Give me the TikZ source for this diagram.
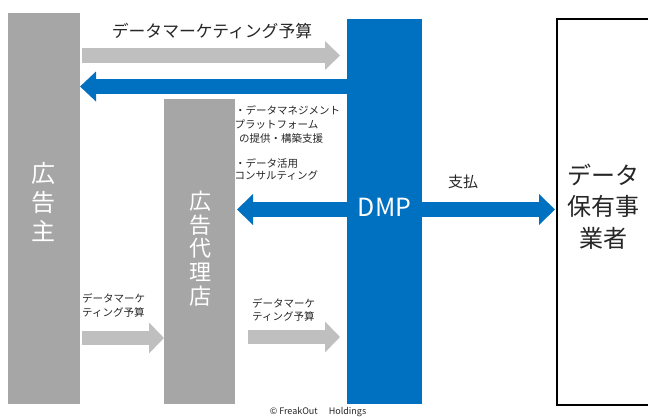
\documentclass[tikz,border=0pt]{standalone}
\usepackage{fontspec}
\setmainfont{Noto Sans CJK JP}
\usetikzlibrary{arrows.meta}
\definecolor{bargrey}{HTML}{A6A6A6}
\definecolor{arrgrey}{HTML}{BFBFBF}
\definecolor{dmpblue}{HTML}{0070C0}
\definecolor{txtc}{HTML}{262626}
\begin{document}
\begin{tikzpicture}[x=1pt,y=-1pt,
  bar/.style={fill=bargrey, draw=none, inner sep=0pt, outer sep=0pt, anchor=north west},
  garrow/.style={draw=arrgrey, line width=15pt, -{Triangle[length=15pt,width=28pt]}},
  barrow/.style={draw=dmpblue, line width=15pt},
  small/.style={anchor=base west, inner sep=0pt, text=txtc, font=\fontsize{10.5}{12}\selectfont},
  big/.style={align=center, inner sep=0pt, text=white}
]
\useasboundingbox (0,0) rectangle (648,416);
\fill[white] (0,0) rectangle (648,416);

% main blocks
\node[bar, minimum width=72pt, minimum height=391pt] (adv) at (8,13) {};
\node[bar, minimum width=71pt, minimum height=305pt] (ag) at (164,99) {};
\node[bar, fill=dmpblue, minimum width=75pt, minimum height=385pt] (dmp) at (347,19) {};
\node[draw=black, line width=2pt, fill=white, minimum width=92pt, minimum height=386pt,
      anchor=north west, inner sep=0pt, outer sep=0pt] (owner) at (557,19) {};

% levels of the arrows
\coordinate (yA) at (0,55.5);
\coordinate (yB) at (0,86.5);
\coordinate (yC) at (0,209.5);
\coordinate (yD) at (0,338);
\coordinate (yE) at (0,337);

% arrows
\draw[garrow, shorten <=2pt, shorten >=7pt] (adv.east |- yA) -- (dmp.west |- yA);
\draw[barrow, -{Triangle[length=16pt,width=29pt]}] (dmp.west |- yB) -- (adv.east |- yB);
\draw[barrow, {Triangle[length=16pt,width=30pt]}-{Triangle[length=16pt,width=30pt]},
      shorten <=2pt, shorten >=2pt] (ag.east |- yC) -- (owner.west |- yC);
\draw[garrow, line width=14pt, -{Triangle[length=15pt,width=30pt]}, shorten <=2pt]
      (adv.east |- yD) -- (ag.west |- yD);
\draw[garrow, line width=14pt, -{Triangle[length=15pt,width=30pt]}, shorten <=13pt, shorten >=7pt]
      (ag.east |- yE) -- (dmp.west |- yE);

% texts in blocks
\node[big, font=\fontsize{24}{29}\selectfont] (advt) at (43,202) {広\\告\\主};
\node[big, font=\fontsize{22}{23.8}\selectfont] (agt) at (200,248.5) {広\\告\\代\\理\\店};
\node[big, font=\fontsize{25}{25}\selectfont] (dmpt) at (384.5,207) {DMP};
\node[big, text=txtc, font=\fontsize{24}{31.5}\selectfont] (ownt) at (603,206.5) {データ\\保有事\\業者};

% labels
\node[inner sep=0pt, text=txtc, font=\fontsize{16.8}{16.8}\selectfont] (lbtop) at (212,31) {データマーケティング予算};
\node[inner sep=0pt, text=txtc, font=\fontsize{15}{15}\selectfont] (lbpay) at (463,182) {支払};
\node[small] (s1) at (235,114) {・データマネジメント};
\node[small] (s2) at (234.5,128) {プラットフォーム};
\node[small] (s3) at (239,142) {の提供・構築支援};
\node[small] (s4) at (235,167) {・データ活用};
\node[small] (s5) at (234.5,179) {コンサルティング};
\node[small] (b1) at (82,302) {データマーケ};
\node[small] (b2) at (82,316) {ティング予算};
\node[small] (c1) at (252,307) {データマーケ};
\node[small] (c2) at (252,320) {ティング予算};
\node[inner sep=0pt, text=txtc, font=\fontsize{9}{9}\selectfont] (copy) at (318,412) {© FreakOut\quad\ Holdings};
\end{tikzpicture}
\end{document}
